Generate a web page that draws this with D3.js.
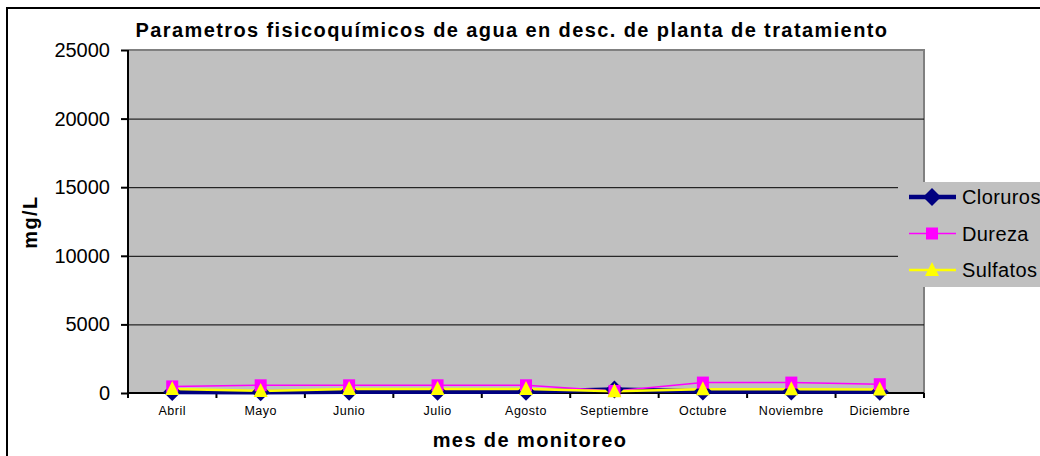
<!DOCTYPE html>
<html>
<head>
  <meta charset="UTF-8">
  <title>Parametros fisicoquimicos</title>
  <script src="https://cdn.jsdelivr.net/npm/d3@7"></script>
  <style>
    body { margin: 0; background: #fff; }
    svg { display: block; font-family: Arial, "Liberation Sans", sans-serif; }
  </style>
</head>
<body>
<svg id="chart" width="1040" height="456"></svg>
<script>
// months on the x axis
var meses = ["Abril", "Mayo", "Junio", "Julio", "Agosto", "Septiembre", "Octubre", "Noviembre", "Diciembre"];
// values (mg/L)
var cloruros = [80, 60, 90, 90, 90, 250, 110, 110, 100];
var dureza   = [480, 560, 560, 560, 560, 150, 760, 760, 640];
var sulfatos = [300, 150, 300, 300, 300, 120, 280, 280, 260];
var yTicks = [0, 5000, 10000, 15000, 20000, 25000];

var svg = d3.select("#chart");
// plot box (note: "top" is reserved on window, so use pl/pr/pt/pb)
var pl = 128, pr = 924, pt = 50, pb = 393;

// outer chart frame
svg.append("rect").attr("x", 7).attr("y", 8).attr("width", 1060).attr("height", 470)
  .attr("fill", "#fff").attr("stroke", "#000").attr("stroke-width", 2);

var x = d3.scaleBand().domain(meses).range([pl, pr]);
var y = d3.scaleLinear().domain([0, 25000]).range([pb, pt]);

// plot area
svg.append("rect").attr("x", pl).attr("y", pt).attr("width", pr - pl).attr("height", pb - pt)
  .attr("fill", "#c0c0c0");
svg.append("path").attr("d", "M" + pl + "," + pt + "H" + pr + "V" + pb)
  .attr("fill", "none").attr("stroke", "#808080").attr("stroke-width", 2);

// gridlines
svg.append("g").selectAll("line").data(yTicks.slice(1, 5)).enter().append("line")
  .attr("x1", pl).attr("x2", pr)
  .attr("y1", function(d){ return y(d) + 0.5; }).attr("y2", function(d){ return y(d) + 0.5; })
  .attr("stroke", "#000").attr("stroke-width", 1);

// y axis
var ya = svg.append("g").attr("transform", "translate(" + pl + ",0)")
  .call(d3.axisLeft(y).tickValues(yTicks).tickSize(7).tickPadding(11).tickFormat(d3.format("d")));
ya.select(".domain").attr("stroke", "#000").attr("stroke-width", 2).attr("d", "M0," + pt + "V" + pb);
ya.selectAll(".tick line").attr("stroke", "#000").attr("stroke-width", 2);
ya.selectAll(".tick text").attr("font-size", 20).attr("fill", "#000").attr("font-family", "Arial, Liberation Sans, sans-serif");

// x axis
var xa = svg.append("g").attr("transform", "translate(0," + pb + ")")
  .call(d3.axisBottom(x).tickSize(0).tickPadding(13));
xa.select(".domain").attr("stroke", "#000").attr("stroke-width", 2).attr("d", "M" + pl + ",0H" + pr);
xa.selectAll(".tick text").attr("font-size", 12.5).attr("letter-spacing", "0.5px").attr("fill", "#000")
  .attr("font-family", "Arial, Liberation Sans, sans-serif");
xa.selectAll(".btick").data(d3.range(meses.length + 1)).enter().append("line")
  .attr("x1", function(i){ return pl + i * x.step(); }).attr("x2", function(i){ return pl + i * x.step(); })
  .attr("y1", 0).attr("y2", 5).attr("stroke", "#000").attr("stroke-width", 2);

// series
var cx = function(d, i){ return x(meses[i]) + x.bandwidth() / 2; };
var series = [
  { name: "Cloruros", values: cloruros, color: "#000080", width: 4.5, shape: "diamond" },
  { name: "Dureza", values: dureza, color: "#ff00ff", width: 1.5, shape: "square" },
  { name: "Sulfatos", values: sulfatos, color: "#ffff00", width: 2.5, shape: "triangle" }
];
function marker(g, shape, color) {
  if (shape === "diamond") g.append("path").attr("d", "M0,-9L9,0L0,9L-9,0Z").attr("fill", color);
  if (shape === "square") g.append("rect").attr("x", -6).attr("y", -6).attr("width", 12).attr("height", 12).attr("fill", color);
  if (shape === "triangle") g.append("path").attr("d", "M0,-8L7,6L-7,6Z").attr("fill", color);
}
series.forEach(function(s) {
  var line = d3.line().x(cx).y(function(d){ return y(d); });
  svg.append("path").datum(s.values).attr("d", line)
    .attr("fill", "none").attr("stroke", s.color).attr("stroke-width", s.width);
});
series.forEach(function(s) {
  s.values.forEach(function(v, i) {
    var g = svg.append("g").attr("transform", "translate(" + cx(v, i) + "," + y(v) + ")");
    marker(g, s.shape, s.color);
  });
});

// legend
var lg = svg.append("g");
lg.append("rect").attr("x", 898).attr("y", 182).attr("width", 160).attr("height", 105).attr("fill", "#c0c0c0");
series.forEach(function(s, i) {
  var ly = 197 + i * 36.5;
  lg.append("line").attr("x1", 909).attr("x2", 956).attr("y1", ly).attr("y2", ly)
    .attr("stroke", s.color).attr("stroke-width", s.width);
  marker(lg.append("g").attr("transform", "translate(932," + ly + ")"), s.shape, s.color);
  lg.append("text").attr("x", 962).attr("y", ly + 7).attr("font-size", 20).attr("letter-spacing", "0.4px")
    .attr("fill", "#000").text(s.name);
});

// titles
svg.append("text").attr("x", 512).attr("y", 37).attr("text-anchor", "middle")
  .attr("font-size", 20).attr("letter-spacing", "1.4px").attr("font-weight", "bold")
  .text("Parametros fisicoquímicos de agua en desc. de planta de tratamiento");
svg.append("text").attr("x", 530).attr("y", 447).attr("text-anchor", "middle")
  .attr("font-size", 20).attr("letter-spacing", "1.4px").attr("font-weight", "bold").text("mes de monitoreo");
svg.append("text").attr("transform", "translate(37,222) rotate(-90)").attr("text-anchor", "middle")
  .attr("font-size", 20).attr("letter-spacing", "1.4px").attr("font-weight", "bold").text("mg/L");
</script>
</body>
</html>
